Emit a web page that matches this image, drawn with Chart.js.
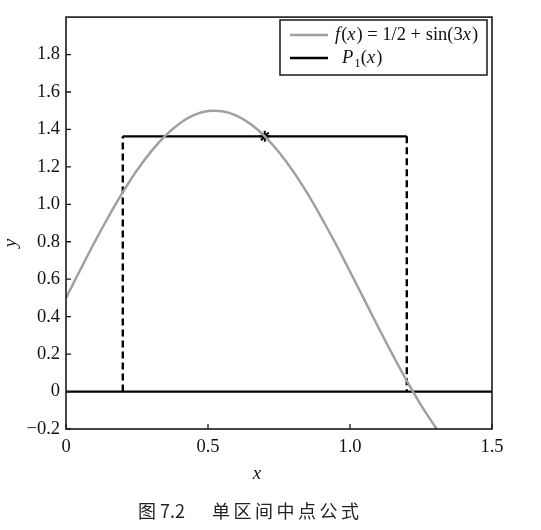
<!DOCTYPE html>
<html>
<head>
<meta charset="utf-8">
<script src="https://cdn.jsdelivr.net/npm/chart.js@4"></script>
<style>
html,body{margin:0;padding:0;background:#fff;}
#wrap{width:541px;height:530px;}
</style>
</head>
<body>
<div id="wrap"><canvas id="c" width="541" height="530"></canvas></div>
<script>
// ---- data ----
const curveLabel = 'f(x) = 1/2 + sin(3x)';
const curveX = [0,0.05,0.10,0.15,0.20,0.25,0.30,0.35,0.40,0.45,0.50,0.55,0.60,0.65,0.70,0.75,0.80,0.85,0.90,0.95,1.00,1.05,1.10,1.15,1.20,1.25,1.30,1.306];
const curveY = [0.5,0.649,0.796,0.935,1.065,1.182,1.283,1.367,1.432,1.476,1.498,1.497,1.474,1.429,1.363,1.278,1.176,1.058,0.927,0.788,0.641,0.492,0.342,0.197,0.057,-0.072,-0.188,-0.2];
const rectLabel = 'P1(x)';
const topX = [0.2,1.2];
const topY = [1.363,1.363];
const leftX = [0.2,0.2];
const leftY = [0,1.363];
const rightX = [1.2,1.2];
const rightY = [1.363,0];
const baseX = [0,1.5];
const baseY = [0,0];
const midX = [0.7];
const midY = [1.363];
const xTicks = [0,0.5,1.0,1.5];
const yTicks = [-0.2,0,0.2,0.4,0.6,0.8,1.0,1.2,1.4,1.6,1.8];
const xTitle = 'x';
const yTitle = 'y';
const caption = ['图 7.2', '单区间中点公式'];

const pts = (xs, ys) => xs.map((x, i) => ({x, y: ys[i]}));
const SERIF = '"Liberation Serif", "DejaVu Serif", serif';

function fmt(v){
  if (Math.abs(v) < 1e-9) return '0';
  const s = Math.abs(v).toFixed(1);
  return (v < 0 ? '\u2212' : '') + s;
}

function drawRich(ctx, text, x, y, size){
  ctx.textBaseline = 'middle';
  ctx.textAlign = 'left';
  let cx = x;
  for (let i = 0; i < text.length; i++){
    const c = text[i];
    const sub = c === '1' && text[i-1] === 'P';
    const ital = 'fxP'.includes(c);
    const fs = sub ? size * 0.7 : size;
    ctx.font = (ital ? 'italic ' : '') + fs + 'px ' + SERIF;
    ctx.fillText(c, cx, sub ? y + size * 0.3 : y);
    cx += ctx.measureText(c).width + (ital ? 1 : 0);
  }
}

const framePlugin = {
  id: 'frame',
  afterDraw(chart){
    const {ctx, chartArea: a, scales} = chart;
    ctx.save();
    // frame
    ctx.strokeStyle = '#1a1a1a';
    ctx.lineWidth = 1.6;
    ctx.strokeRect(a.left, a.top, a.right - a.left, a.bottom - a.top);
    // inward ticks
    ctx.lineWidth = 1.3;
    ctx.beginPath();
    scales.y.ticks.forEach(t => {
      const p = scales.y.getPixelForValue(t.value);
      ctx.moveTo(a.left, p); ctx.lineTo(a.left + 5, p);
    });
    scales.x.ticks.forEach(t => {
      const p = scales.x.getPixelForValue(t.value);
      ctx.moveTo(p, a.bottom); ctx.lineTo(p, a.bottom - 5);
    });
    ctx.stroke();
    // legend
    const lx = 280, ly = 20, lw = 207, lh = 55;
    ctx.fillStyle = '#fff';
    ctx.fillRect(lx, ly, lw, lh);
    ctx.strokeStyle = '#1a1a1a';
    ctx.lineWidth = 1.5;
    ctx.strokeRect(lx, ly, lw, lh);
    const rows = [
      {label: chart.data.datasets[0].label, color: '#a0a0a0', w: 2.5, y: ly + 15, tx: 335},
      {label: chart.data.datasets[1].label, color: '#000', w: 2.5, y: ly + 38, tx: 342}
    ];
    rows.forEach(r => {
      ctx.strokeStyle = r.color; ctx.lineWidth = r.w;
      ctx.beginPath(); ctx.moveTo(290, r.y); ctx.lineTo(328, r.y); ctx.stroke();
      ctx.fillStyle = '#111';
      drawRich(ctx, r.label, r.tx, r.y, 18.5);
    });
    // axis titles
    ctx.fillStyle = '#111';
    ctx.font = 'italic 19px ' + SERIF;
    ctx.textAlign = 'center';
    ctx.textBaseline = 'middle';
    ctx.fillText(xTitle, 257, 474);
    ctx.save();
    ctx.translate(11, 243);
    ctx.rotate(-Math.PI / 2);
    ctx.fillText(yTitle, 0, 0);
    ctx.restore();
    // caption
    ctx.font = '18px "Noto Sans CJK SC", sans-serif';
    ctx.fillStyle = '#222';
    ctx.textAlign = 'left';
    ctx.fillText(caption[0], 138, 511);
    let cx = 212;
    for (const ch of caption[1]) { ctx.fillText(ch, cx, 511); cx += 21.5; }
    ctx.restore();
  }
};

const solid = {showLine: true, borderColor: '#000', borderWidth: 2.2, pointRadius: 0};
const dashed = {showLine: true, borderColor: '#000', borderWidth: 2.4, pointRadius: 0, borderDash: [7, 4]};

new Chart(document.getElementById('c'), {
  type: 'scatter',
  data: {
    datasets: [
      {label: curveLabel, data: pts(curveX, curveY), showLine: true, borderColor: '#a0a0a0', borderWidth: 2.5,
       pointRadius: 0, tension: 0.4, order: 0},
      Object.assign({label: rectLabel, data: pts(topX, topY), order: 2}, solid),
      Object.assign({label: 'left', data: pts(leftX, leftY), order: 2}, dashed),
      Object.assign({label: 'right', data: pts(rightX, rightY), order: 2}, dashed),
      Object.assign({label: 'base', data: pts(baseX, baseY), order: 3}, solid),
      {label: 'mid', data: pts(midX, midY), showLine: false, pointStyle: 'star', pointRadius: 5.5,
       borderColor: '#000', backgroundColor: '#000', borderWidth: 2, order: 1}
    ]
  },
  options: {
    responsive: false,
    animation: false,
    events: [],
    layout: {padding: {left: 0, right: 49, top: 14, bottom: 0}},
    plugins: {legend: {display: false}, tooltip: {enabled: false}},
    scales: {
      x: {
        type: 'linear', min: 0, max: 1.5,
        afterBuildTicks: s => { s.ticks = xTicks.map(v => ({value: v})); },
        afterFit: s => { s.height = 101; },
        grid: {display: false, drawTicks: false, tickLength: 0}, border: {display: false},
        ticks: {callback: v => fmt(v), color: '#111', padding: 7, maxRotation: 0,
                font: {family: SERIF, size: 18.5}}
      },
      y: {
        type: 'linear', min: -0.2, max: 2.0,
        afterBuildTicks: s => { s.ticks = yTicks.map(v => ({value: v})); },
        afterFit: s => { s.width = 66; },
        grid: {display: false, drawTicks: false, tickLength: 0}, border: {display: false},
        ticks: {callback: v => fmt(v), color: '#111', padding: 6,
                font: {family: SERIF, size: 18.5}}
      }
    }
  },
  plugins: [framePlugin]
});
</script>
</body>
</html>
